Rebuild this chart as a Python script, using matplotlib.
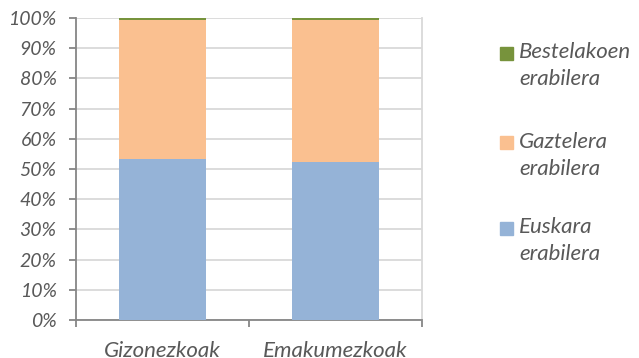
import matplotlib.pyplot as plt
from matplotlib.patches import Rectangle
from matplotlib.ticker import PercentFormatter, FixedLocator, NullFormatter

# Data (percent shares)
categories = ['Gizonezkoak', 'Emakumezkoak']
euskara = [53.3, 52.3]
gaztelera = [46.2, 47.2]
bestelakoak = [0.5, 0.5]

series_labels = ['Euskara\nerabilera', 'Gaztelera\nerabilera', 'Bestelakoen\nerabilera']
colors = ['#95b3d7', '#fac090', '#77933c']

plt.rcParams['font.family'] = ['Lato', 'DejaVu Sans']
txt = '#595959'

W, H = 639, 358
fig = plt.figure(figsize=(W / 100, H / 100), dpi=100)
ax = fig.add_axes([76 / W, 1 - 320 / H, 346 / W, 302 / H])

x = range(len(categories))
bottom = [0, 0]
for vals, col, lab in zip([euskara, gaztelera, bestelakoak], colors, series_labels):
    ax.bar(x, vals, width=0.5, bottom=bottom, color=col, label=lab, zorder=3)
    bottom = [bo + v for bo, v in zip(bottom, vals)]

ax.set_xlim(-0.5, 1.5)
ax.set_ylim(0, 100)
ax.set_yticks(range(0, 101, 10))
ax.yaxis.set_major_formatter(PercentFormatter(decimals=0))
ax.grid(axis='y', color='#d9d9d9', linewidth=1.3, zorder=0)

ax.set_xticks(list(x))
ax.set_xticklabels(categories, fontsize=16, style='italic', color=txt)
ax.tick_params(axis='x', which='major', length=0, pad=15)
ax.xaxis.set_minor_locator(FixedLocator([-0.5, 0.5, 1.5]))
ax.xaxis.set_minor_formatter(NullFormatter())
ax.tick_params(axis='x', which='minor', length=5, color='#868686', width=1.3)
ax.tick_params(axis='y', length=5, color='#868686', width=1.3, pad=9,
               labelsize=14, labelcolor=txt)
for t in ax.get_yticklabels():
    t.set_style('italic')

for s in ['left', 'bottom']:
    ax.spines[s].set_color('#868686')
    ax.spines[s].set_linewidth(1.3)
ax.spines['top'].set_visible(False)
ax.spines['right'].set_color('#d9d9d9')
ax.spines['right'].set_linewidth(1.3)

# legend: square aligned with the first line of each two-line label
legend_y = [53, 143, 228]
for (lab, col), yy in zip(list(zip(series_labels, colors))[::-1], legend_y):
    fig.add_artist(Rectangle((500 / W, 1 - (yy + 6.5) / H), 13 / W, 13 / H,
                             transform=fig.transFigure, color=col))
    fig.text(519 / W, 1 - (yy - 11) / H, lab, fontsize=16, style='italic',
             color=txt, va='top', ha='left', linespacing=1.45)

fig.savefig('out.png', dpi=100)
